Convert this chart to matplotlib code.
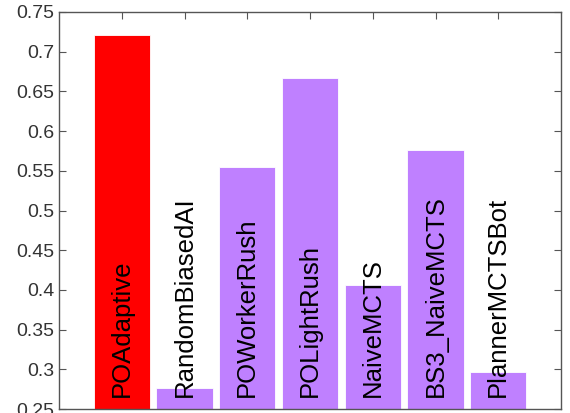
import matplotlib
matplotlib.use("Agg")
import matplotlib.pyplot as plt

plt.rcParams['font.family'] = ['Liberation Sans', 'DejaVu Sans']

# win rate per bot
bots = ['POAdaptive', 'RandomBiasedAI', 'POWorkerRush', 'POLightRush',
        'NaiveMCTS', 'BS3_NaiveMCTS', 'PlannerMCTSBot']
scores = [0.721, 0.277, 0.555, 0.667, 0.406, 0.576, 0.297]
colors = ['#ff0000', '#bf80ff', '#bf80ff', '#bf80ff', '#bf80ff', '#bf80ff', '#bf80ff']
yticks = [0.25, 0.3, 0.35, 0.4, 0.45, 0.5, 0.55, 0.6, 0.65, 0.7, 0.75]
ytick_labels = ['0.25', '0.3', '0.35', '0.4', '0.45', '0.5', '0.55', '0.6', '0.65', '0.7', '0.75']

fig = plt.figure(figsize=(5.7, 4.13), dpi=100)
ax = fig.add_axes([59 / 570, 4 / 413, 502 / 570, 397 / 413])

x = list(range(len(bots)))
ax.bar(x, [s - 0.25 for s in scores], bottom=0.25, width=0.9, color=colors,
       edgecolor='white', linewidth=0.6)

for i, name in enumerate(bots):
    ax.text(i, 0.265, name, rotation=90, ha='center', va='bottom',
            fontsize=18.5, color='black')

ax.set_xlim(-1, 7)
ax.set_ylim(0.25, 0.75)
ax.set_yticks(yticks)
ax.set_yticklabels(ytick_labels, fontsize=14, color='#333333')
ax.set_xticks(x)
ax.set_xticklabels([])
ax.tick_params(direction='in', length=5, color='#555555', top=True, right=True,
               bottom=False, labelbottom=False)
for sp in ax.spines.values():
    sp.set_color('#555555')
    sp.set_linewidth(1.0)

fig.savefig('out.png', dpi=100)
